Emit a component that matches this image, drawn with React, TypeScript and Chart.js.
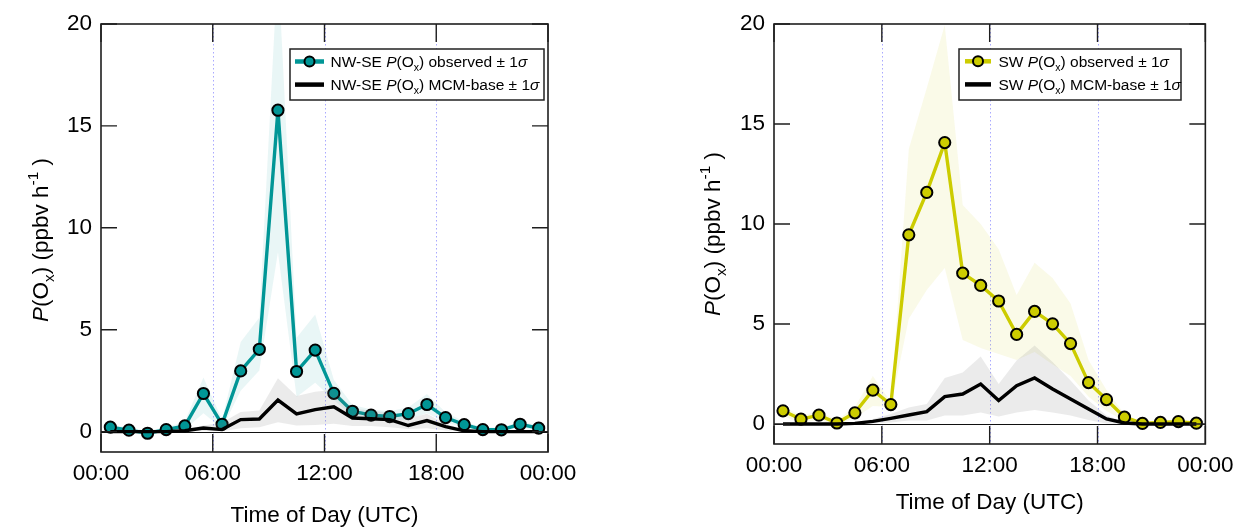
import React, { useEffect, useRef } from 'react';
import { Chart, registerables } from 'chart.js';

Chart.register(...registerables);

// ---------------- data ----------------
const HOURS = [0.5, 1.5, 2.5, 3.5, 4.5, 5.5, 6.5, 7.5, 8.5, 9.5, 10.5, 11.5, 12.5, 13.5, 14.5, 15.5, 16.5, 17.5, 18.5, 19.5, 20.5, 21.5, 22.5, 23.5];

const X_TICKS = [0, 6, 12, 18, 24];
const X_TICK_LABELS = ['00:00', '06:00', '12:00', '18:00', '00:00'];
const X_GRID = [6, 12, 18];
const Y_TICKS = [0, 5, 10, 15, 20];
const Y_MIN = -1;
const Y_MAX = 20;

// NW-SE panel
const NWSE_OBS = [0.22, 0.07, -0.08, 0.1, 0.28, 1.87, 0.36, 2.98, 4.04, 15.77, 2.95, 4.0, 1.88, 1.0, 0.81, 0.74, 0.88, 1.33, 0.69, 0.34, 0.1, 0.09, 0.36, 0.17];
const NWSE_OBS_HI = [0.35, 0.2, 0.05, 0.2, 0.5, 2.65, 0.6, 4.4, 5.6, 23.0, 4.6, 5.75, 2.55, 1.3, 1.1, 1.0, 1.2, 1.85, 0.95, 0.5, 0.2, 0.2, 0.5, 0.3];
const NWSE_OBS_LO = [0.1, -0.05, -0.2, 0.0, 0.1, 0.9, 0.15, 2.0, 3.0, 8.8, 1.7, 2.4, 1.55, 0.75, 0.6, 0.55, 0.6, 0.9, 0.45, 0.2, 0.0, 0.0, 0.2, 0.05];
const NWSE_MCM = [0.0, 0.0, 0.0, 0.0, 0.04, 0.18, 0.1, 0.59, 0.62, 1.55, 0.87, 1.08, 1.22, 0.67, 0.63, 0.59, 0.3, 0.54, 0.24, 0.04, 0.0, 0.0, 0.0, 0.0];
const NWSE_MCM_HI = [0.05, 0.05, 0.05, 0.05, 0.1, 0.3, 0.45, 0.96, 1.04, 2.62, 1.75, 1.96, 2.05, 1.13, 1.04, 0.93, 0.63, 0.88, 0.38, 0.1, 0.05, 0.05, 0.05, 0.05];
const NWSE_MCM_LO = [-0.02, -0.02, -0.02, -0.02, 0.0, 0.03, 0.02, 0.17, 0.22, 0.46, 0.3, 0.33, 0.38, 0.27, 0.27, 0.22, 0.13, 0.17, 0.05, 0.0, -0.02, -0.02, -0.02, -0.02];

// SW panel
const SW_OBS = [0.66, 0.24, 0.44, 0.05, 0.56, 1.69, 0.97, 9.46, 11.58, 14.07, 7.54, 6.93, 6.15, 4.48, 5.63, 5.01, 4.02, 2.07, 1.22, 0.34, 0.03, 0.08, 0.12, 0.04];
const SW_OBS_HI = [0.9, 0.4, 0.65, 0.2, 0.85, 2.4, 1.1, 13.75, 16.8, 19.95, 10.95, 10.0, 8.74, 6.45, 8.06, 7.3, 6.03, 3.2, 1.7, 0.5, 0.1, 0.15, 0.2, 0.1];
const SW_OBS_LO = [0.4, 0.05, 0.2, -0.05, 0.3, 0.9, 0.85, 5.26, 6.7, 7.8, 4.2, 3.8, 3.5, 3.2, 3.6, 2.97, 2.4, 1.36, 0.65, 0.15, -0.03, 0.02, 0.05, -0.02];
const SW_MCM = [0.0, 0.0, 0.0, 0.0, 0.03, 0.13, 0.28, 0.45, 0.62, 1.37, 1.5, 2.0, 1.17, 1.92, 2.3, 1.75, 1.25, 0.75, 0.25, 0.05, 0.0, 0.0, 0.0, 0.0];
const SW_MCM_HI = [0.02, 0.02, 0.02, 0.02, 0.08, 0.25, 0.5, 0.83, 1.0, 2.3, 2.58, 3.37, 2.0, 3.17, 3.92, 3.1, 2.17, 1.17, 0.42, 0.1, 0.02, 0.02, 0.02, 0.02];
const SW_MCM_LO = [-0.02, -0.02, -0.02, -0.02, 0.0, 0.03, 0.08, 0.17, 0.17, 0.42, 0.42, 0.58, 0.37, 0.58, 0.7, 0.58, 0.42, 0.2, 0.03, 0.0, -0.02, -0.02, -0.02, -0.02];

// ---------------- styling helpers ----------------
const FAM = '"Liberation Sans", Arial, Helvetica, sans-serif';

type Seg = { t: string; it?: boolean; sub?: boolean; sup?: boolean };

function segFont(s: Seg, size: number) {
  const sz = s.sub || s.sup ? size * 0.68 : size;
  return `${s.it ? 'italic ' : ''}${sz}px ${FAM}`;
}
function measureRich(ctx: CanvasRenderingContext2D, segs: Seg[], size: number) {
  let w = 0;
  for (const s of segs) {
    ctx.font = segFont(s, size);
    w += ctx.measureText(s.t).width;
  }
  return w;
}
function drawRich(ctx: CanvasRenderingContext2D, segs: Seg[], x: number, y: number, size: number) {
  let cx = x;
  ctx.textBaseline = 'alphabetic';
  ctx.textAlign = 'left';
  for (const s of segs) {
    ctx.font = segFont(s, size);
    const dy = s.sub ? size * 0.25 : s.sup ? -size * 0.45 : 0;
    ctx.fillText(s.t, cx, y + dy);
    cx += ctx.measureText(s.t).width;
  }
}

const Y_TITLE: Seg[] = [
  { t: 'P', it: true }, { t: '(O' }, { t: 'x', sub: true }, { t: ') (ppbv h' }, { t: '-1', sup: true }, { t: ' )' },
];
function legendSegs(prefix: string, what: string): Seg[] {
  return [{ t: prefix + ' ' }, { t: 'P', it: true }, { t: '(O' }, { t: 'x', sub: true }, { t: ') ' + what + ' \u00b1 1' }, { t: '\u03c3', it: true }];
}

interface Panel {
  prefix: string;
  obs: number[]; obsHi: number[]; obsLo: number[];
  mcm: number[]; mcmHi: number[]; mcmLo: number[];
  color: string; band: string;
  canvasW: number;
  area: { left: number; right: number; top: number; bottom: number };
  xLabelPad: number; titlePadBottom: number;
  yTitle: { x: number; y: number };
  legend: { x: number; y: number; w: number; h: number; rows: number[]; lx0: number; lx1: number; tx: number };
}

const H = 531;

const LEFT: Panel = {
  prefix: 'NW-SE',
  obs: NWSE_OBS, obsHi: NWSE_OBS_HI, obsLo: NWSE_OBS_LO,
  mcm: NWSE_MCM, mcmHi: NWSE_MCM_HI, mcmLo: NWSE_MCM_LO,
  color: 'rgb(0,150,150)', band: 'rgba(0,150,150,0.085)',
  canvasW: 620,
  area: { left: 101, right: 548, top: 24, bottom: 452 },
  xLabelPad: 8.5, titlePadBottom: 1.5,
  yTitle: { x: 40, y: 240 },
  legend: { x: 290, y: 49, w: 254, h: 51, rows: [61.5, 84.6], lx0: 295, lx1: 324, tx: 330.5 },
};

const RIGHT: Panel = {
  prefix: 'SW',
  obs: SW_OBS, obsHi: SW_OBS_HI, obsLo: SW_OBS_LO,
  mcm: SW_MCM, mcmHi: SW_MCM_HI, mcmLo: SW_MCM_LO,
  color: 'rgb(204,204,0)', band: 'rgba(204,204,0,0.09)',
  canvasW: 622,
  area: { left: 154, right: 591, top: 24, bottom: 444 },
  xLabelPad: 8.5, titlePadBottom: 14.5,
  yTitle: { x: 712 - 620, y: 234 },
  legend: { x: 339, y: 49, w: 222, h: 51, rows: [61.3, 84.4], lx0: 345, lx1: 371, tx: 378.5 },
};

function pts(vals: number[]) {
  return HOURS.map((h, i) => ({ x: h, y: vals[i] }));
}

function decor(p: Panel) {
  return {
    id: 'decor',
    beforeDatasetsDraw(chart: any) {
      const { ctx, chartArea: a, scales } = chart;
      ctx.save();
      ctx.strokeStyle = 'rgba(140,140,255,0.75)';
      ctx.lineWidth = 1;
      ctx.setLineDash([1.5, 2.5]);
      for (const v of X_GRID) {
        const px = Math.round(scales.x.getPixelForValue(v)) + 0.5;
        ctx.beginPath(); ctx.moveTo(px, a.top); ctx.lineTo(px, a.bottom); ctx.stroke();
      }
      ctx.setLineDash([]);
      const y0 = Math.round(scales.y.getPixelForValue(0)) + 0.5;
      ctx.strokeStyle = '#111';
      ctx.lineWidth = 1.2;
      ctx.beginPath(); ctx.moveTo(a.left, y0); ctx.lineTo(a.right, y0); ctx.stroke();
      ctx.restore();
    },
    afterDatasetsDraw(chart: any) {
      const { ctx, chartArea: a, scales } = chart;
      ctx.save();
      // frame
      ctx.strokeStyle = '#1e1e1e';
      ctx.lineWidth = 1.6;
      ctx.strokeRect(a.left, a.top, a.right - a.left, a.bottom - a.top);
      // inward ticks
      ctx.lineWidth = 1.4;
      for (const v of X_TICKS) {
        const px = scales.x.getPixelForValue(v);
        ctx.beginPath();
        ctx.moveTo(px, a.top); ctx.lineTo(px, a.top + 18);
        ctx.moveTo(px, a.bottom); ctx.lineTo(px, a.bottom - 18);
        ctx.stroke();
      }
      for (const v of Y_TICKS) {
        const py = scales.y.getPixelForValue(v);
        ctx.beginPath();
        ctx.moveTo(a.left, py); ctx.lineTo(a.left + 16, py);
        ctx.moveTo(a.right, py); ctx.lineTo(a.right - 16, py);
        ctx.stroke();
      }
      // legend
      const L = p.legend;
      ctx.fillStyle = '#fff';
      ctx.fillRect(L.x, L.y, L.w, L.h);
      ctx.strokeStyle = '#222';
      ctx.lineWidth = 1.5;
      ctx.strokeRect(L.x, L.y, L.w, L.h);
      // row 1
      const r1 = L.rows[0];
      ctx.strokeStyle = p.color;
      ctx.lineWidth = 4.5;
      ctx.beginPath(); ctx.moveTo(L.lx0, r1); ctx.lineTo(L.lx1, r1); ctx.stroke();
      ctx.beginPath();
      ctx.arc((L.lx0 + L.lx1) / 2, r1, 5, 0, Math.PI * 2);
      ctx.fillStyle = p.color; ctx.fill();
      ctx.strokeStyle = '#000'; ctx.lineWidth = 2; ctx.stroke();
      // row 2
      const r2 = L.rows[1];
      ctx.strokeStyle = '#000';
      ctx.lineWidth = 4.5;
      ctx.beginPath(); ctx.moveTo(L.lx0, r2); ctx.lineTo(L.lx1, r2); ctx.stroke();
      ctx.fillStyle = '#000';
      const ls = 15.5;
      drawRich(ctx, legendSegs(p.prefix, 'observed'), L.tx, r1 + ls * 0.36, ls);
      drawRich(ctx, legendSegs(p.prefix, 'MCM-base'), L.tx, r2 + ls * 0.36, ls);
      ctx.restore();
    },
    afterDraw(chart: any) {
      const { ctx } = chart;
      ctx.save();
      const size = 22.5;
      const w = measureRich(ctx, Y_TITLE, size);
      ctx.translate(p.yTitle.x + size * 0.36, p.yTitle.y);
      ctx.rotate(-Math.PI / 2);
      ctx.fillStyle = '#000';
      drawRich(ctx, Y_TITLE, -w / 2, 0, size);
      ctx.restore();
    },
  };
}

function buildChart(canvas: HTMLCanvasElement, p: Panel) {
  const tickFont = { family: FAM, size: 22.5 };
  return new Chart(canvas, {
    type: 'line',
    data: {
      datasets: [
        { label: 'obsHi', data: pts(p.obsHi), borderWidth: 0, borderColor: 'transparent', pointRadius: 0, fill: '+1', backgroundColor: p.band, order: 6 } as any,
        { label: 'obsLo', data: pts(p.obsLo), borderWidth: 0, borderColor: 'transparent', pointRadius: 0, fill: false, order: 6 },
        {
          label: 'obs', data: pts(p.obs), borderColor: p.color, borderWidth: 3.4, fill: false,
          pointRadius: 5.6, pointBackgroundColor: p.color, pointBorderColor: '#000', pointBorderWidth: 2, order: 4,
        },
        { label: 'mcmHi', data: pts(p.mcmHi), borderWidth: 0, borderColor: 'transparent', pointRadius: 0, fill: '+1', backgroundColor: 'rgba(110,110,110,0.14)', order: 3 } as any,
        { label: 'mcmLo', data: pts(p.mcmLo), borderWidth: 0, borderColor: 'transparent', pointRadius: 0, fill: false, order: 3 },
        { label: 'mcm', data: pts(p.mcm), borderColor: '#000', borderWidth: 3.4, pointRadius: 0, fill: false, order: 1 },
      ],
    },
    options: {
      responsive: false,
      animation: false,
      events: [],
      layout: { padding: { left: 0, top: p.area.top, right: p.canvasW - p.area.right, bottom: 0 } },
      plugins: { legend: { display: false }, tooltip: { enabled: false } },
      scales: {
        x: {
          type: 'linear', min: 0, max: 24,
          grid: { display: false, drawTicks: false },
          border: { display: false },
          afterBuildTicks: (s: any) => { s.ticks = X_TICKS.map((v) => ({ value: v })); },
          afterFit: (s: any) => { s.height = H - p.area.bottom; },
          ticks: {
            color: '#000', font: tickFont, padding: p.xLabelPad, maxRotation: 0, autoSkip: false,
            callback: (_v: any, i: number) => X_TICK_LABELS[i],
          },
          title: {
            display: true, text: 'Time of Day (UTC)', color: '#000', font: tickFont,
            padding: { top: 0, bottom: p.titlePadBottom },
          },
        },
        y: {
          type: 'linear', min: Y_MIN, max: Y_MAX,
          grid: { display: false, drawTicks: false },
          border: { display: false },
          afterBuildTicks: (s: any) => { s.ticks = Y_TICKS.map((v) => ({ value: v })); },
          afterFit: (s: any) => { s.width = p.area.left; },
          ticks: { color: '#000', font: tickFont, padding: 9, autoSkip: false },
        },
      },
    } as any,
    plugins: [decor(p)],
  });
}

export default function App() {
  const leftRef = useRef<HTMLCanvasElement>(null);
  const rightRef = useRef<HTMLCanvasElement>(null);
  useEffect(() => {
    const c1 = buildChart(leftRef.current as HTMLCanvasElement, LEFT);
    const c2 = buildChart(rightRef.current as HTMLCanvasElement, RIGHT);
    return () => { c1.destroy(); c2.destroy(); };
  }, []);
  return (
    <div style={{ position: 'absolute', left: 0, top: 0, width: 1242, height: H, background: '#fff' }}>
      <canvas ref={leftRef} width={LEFT.canvasW} height={H} style={{ position: 'absolute', left: 0, top: 0 }} />
      <canvas ref={rightRef} width={RIGHT.canvasW} height={H} style={{ position: 'absolute', left: LEFT.canvasW, top: 0 }} />
    </div>
  );
}
